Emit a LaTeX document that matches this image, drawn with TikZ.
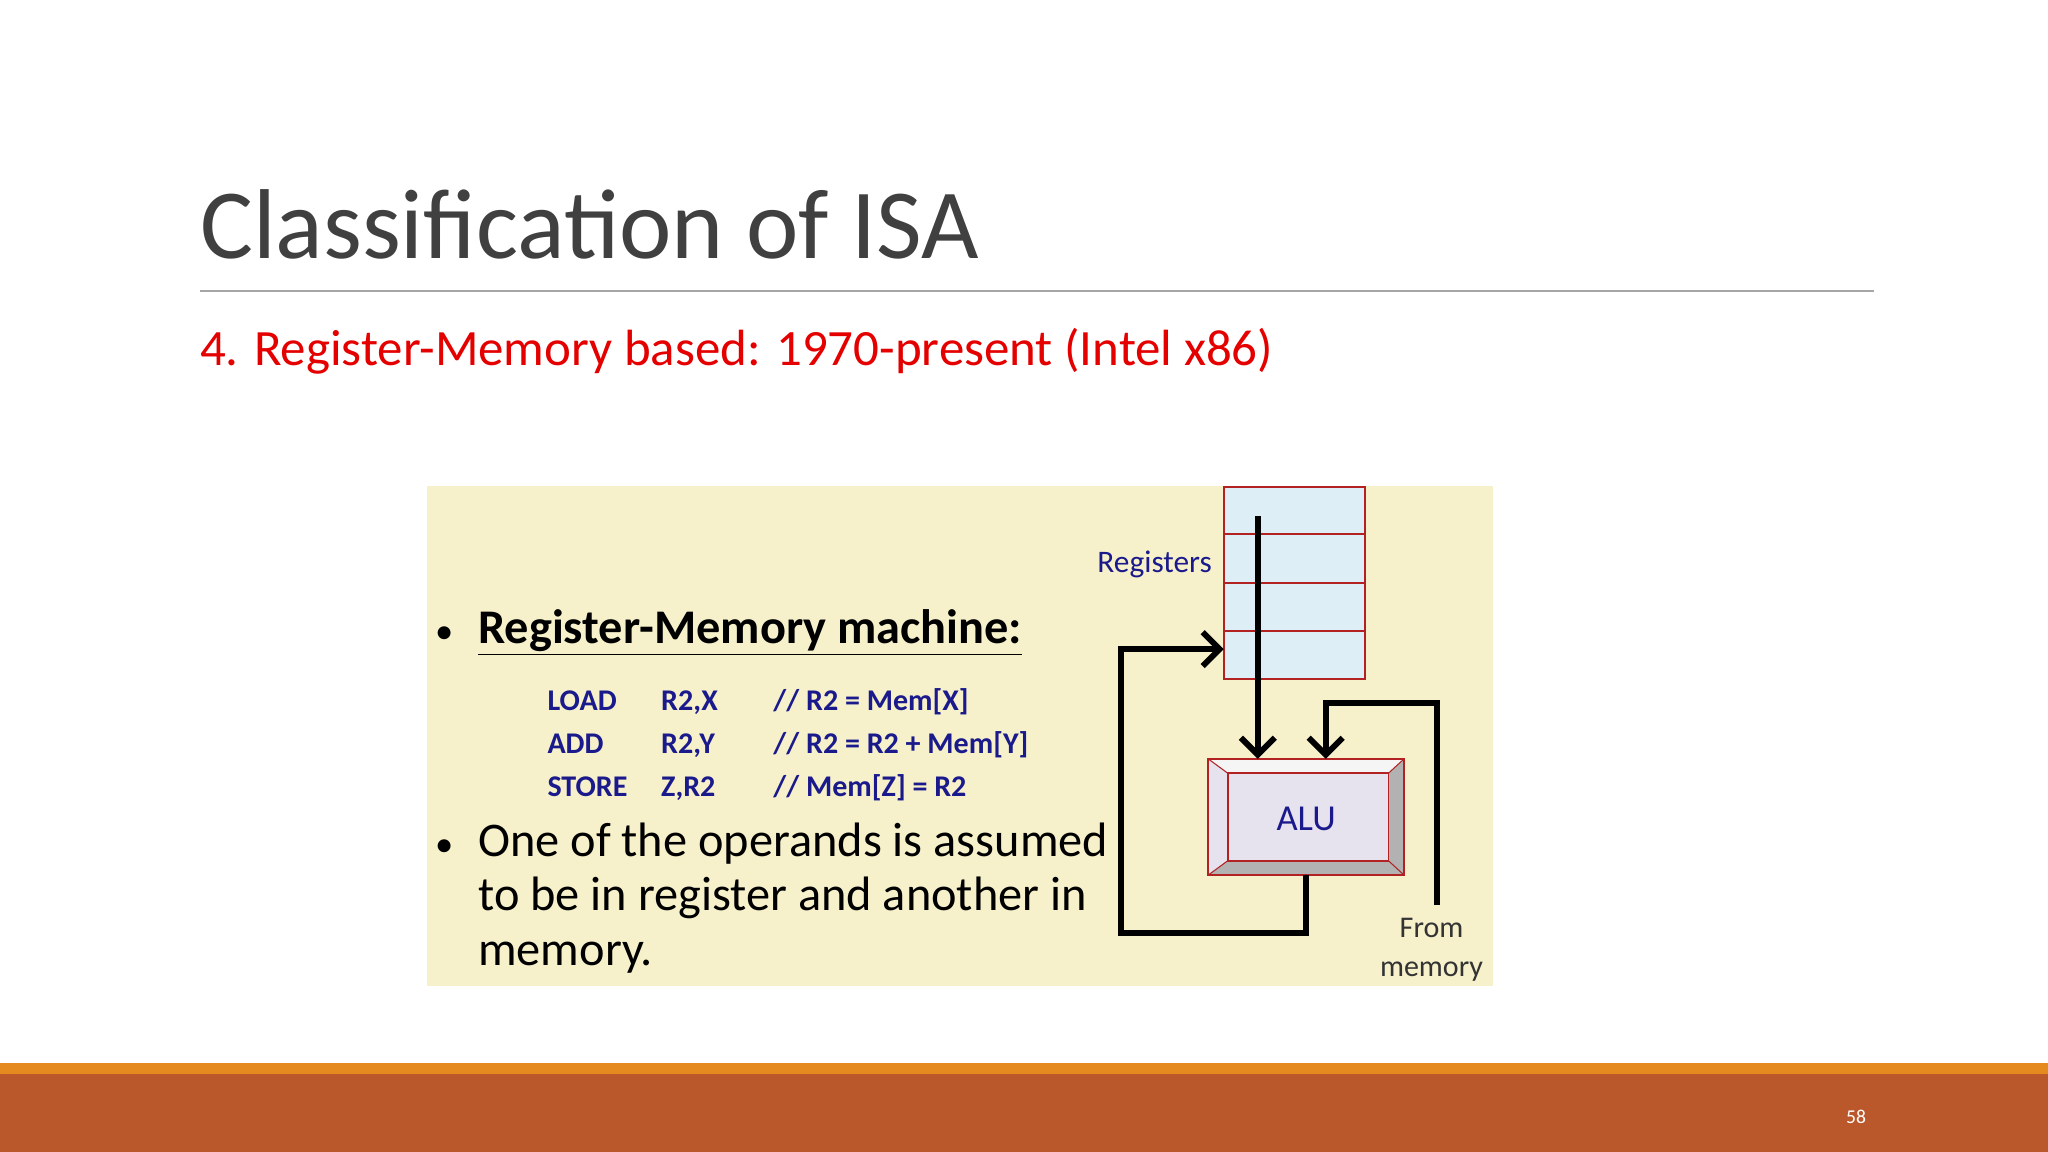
\documentclass[tikz,border=0pt]{standalone}
\usepackage{fontspec}
\setmainfont{Carlito}
\usetikzlibrary{arrows.meta}
\definecolor{bg}{HTML}{F6F1CB}
\definecolor{regfill}{HTML}{DDEEF6}
\definecolor{redb}{HTML}{B22222}
\definecolor{navy}{HTML}{1A1A8C}
\definecolor{titleg}{HTML}{404040}
\definecolor{barr}{HTML}{BA582B}
\definecolor{baro}{HTML}{E48A1E}
\definecolor{alufill}{HTML}{E6E2EE}
\begin{document}
\begin{tikzpicture}[x=1pt,y=-1pt,
  wire/.style={line width=4.5pt},
  arr/.style={wire,-{Straight Barb[length=13pt,width=26pt,line width=4.5pt]}},
  code/.style={font=\fontsize{23}{24}\selectfont\bfseries,text=navy,anchor=base west,inner sep=0},
  big/.style={font=\fontsize{37}{40}\selectfont,text=black,anchor=base west,inner sep=0},
  lbl/.style={font=\fontsize{24}{26}\selectfont,inner sep=0}]
\useasboundingbox (0,0) rectangle (1568,882);
\fill[white] (0,0) rectangle (1568,882);
% title
\node[font=\fontsize{76}{80}\selectfont,text=titleg,anchor=base west,inner sep=0] (title) at (153,198) {Classification of ISA};
\draw[gray!70,line width=1.5pt] (153,223) -- (1435,223);
\node[font=\fontsize{39}{44}\selectfont,text=red!90!black,anchor=base west,inner sep=0] (sub) at (153,280) {4. Register-Memory based: 1970-present (Intel x86)};
% picture background
\fill[bg] (327,372) rectangle (1143,755);
% registers
\foreach \a/\b [count=\i] in {373/409,409/446,446/483,483/520}
  \draw[redb,line width=1.5pt,fill=regfill] (937,\a) rectangle (1045,\b) coordinate (r\i);
\coordinate (regL) at (937,497);
\node[lbl,text=navy,anchor=east] (reglbl) at (928,432) {Registers};
% ALU
\fill[alufill] (925,581) rectangle (1075,670);
\fill[gray!60] (1075,581) -- (1063,592) -- (1063,659) -- (940,659) -- (925,670) -- (1075,670) -- cycle;
\fill[white!92!gray] (925,581) -- (940,592) -- (1063,592) -- (1075,581) -- cycle;
\draw[redb,line width=1.2pt] (925,581) rectangle (1075,670);
\draw[redb,line width=1.2pt] (940,592) rectangle (1063,659);
\draw[redb,line width=0.8pt] (925,581) -- (940,592) (1075,581) -- (1063,592) (925,670) -- (940,659) (1075,670) -- (1063,659);
\node[lbl,text=navy,font=\fontsize{28}{30}\selectfont] (alu) at (1000,627) {ALU};
\coordinate (aluA) at (963,581);
\coordinate (aluB) at (1015,581);
\coordinate (aluOut) at (1000,670);
\coordinate (regTop) at (963,395);
\coordinate (memIn) at (1100,693);
% connectors
\draw[arr] (regTop) -- (aluA);
\draw[arr] (memIn) -- (1100,538) -- (1015,538) -- (aluB);
\draw[arr] (aluOut) -- (1000,714) -- (858,714) -- (858,497) -- (regL);
\node[lbl,text=black!80,align=center,font=\fontsize{23}{30}\selectfont] (from) at (1096,727) {From\\memory};
% text
\node[big,font=\fontsize{28}{40}\selectfont] (b1) at (333,493) {•};
\node[big,font=\fontsize{37}{40}\selectfont\bfseries] (t1) at (366,493) {\underline{Register-Memory machine:}};
\foreach \y/\op/\ar/\cm in {544/LOAD/{R2,X}/{// R2 = Mem[X]},577/ADD/{R2,Y}/{// R2 = R2 + Mem[Y]},610/STORE/{Z,R2}/{// Mem[Z] = R2}}{
  \node[code] at (419,\y) {\op};
  \node[code] at (506,\y) {\ar};
  \node[code] at (592,\y) {\cm};
}
\node[big,font=\fontsize{28}{40}\selectfont] (b2) at (333,656) {•};
\node[big] (l1) at (366,656) {One of the operands is assumed};
\node[big] (l2) at (366,697) {to be in register and another in};
\node[big] (l3) at (366,739) {memory.};
% footer
\fill[baro] (0,814) rectangle (1568,823);
\fill[barr] (0,822) rectangle (1568,882);
\node[font=\fontsize{15}{18}\selectfont,text=white] (pg) at (1421,855) {58};
\end{tikzpicture}
\end{document}
